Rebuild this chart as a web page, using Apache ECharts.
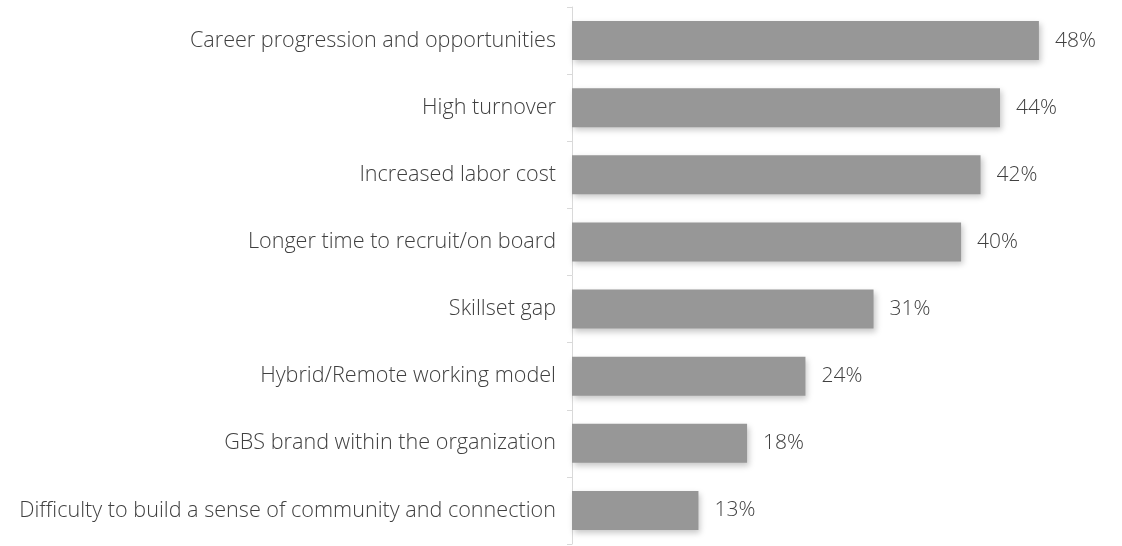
<!DOCTYPE html>
<html>
<head>
<meta charset="utf-8">
<script src="https://cdn.jsdelivr.net/npm/echarts@6/dist/echarts.min.js"></script>
<style>
  html, body { margin: 0; padding: 0; background: #fff; }
  #chart { width: 1122px; height: 546px; }
</style>
</head>
<body>
<div id="chart"></div>
<script>
// categories top to bottom
var categories = [
    'Career progression and opportunities',
    'High turnover',
    'Increased labor cost',
    'Longer time to recruit/on board',
    'Skillset gap',
    'Hybrid/Remote working model',
    'GBS brand within the organization',
    'Difficulty to build a sense of community and connection'
];
var values = [48, 44, 42, 40, 31, 24, 18, 13];

var chart = echarts.init(document.getElementById('chart'));
chart.setOption({
    animation: false,
    grid: { left: 572, right: 15, top: 7, bottom: 2 },
    xAxis: {
        type: 'value',
        min: 0,
        max: 55,
        show: false
    },
    yAxis: {
        type: 'category',
        inverse: true,
        data: categories,
        axisLine: { show: true, lineStyle: { color: '#d9d9d9', width: 1 } },
        axisTick: { show: true, length: 5, lineStyle: { color: '#d9d9d9' } },
        axisLabel: {
            margin: 16,
            color: '#404040',
            fontFamily: 'Open Sans',
            fontWeight: 300,
            fontSize: 21.6
        }
    },
    series: [{
        type: 'bar',
        data: values,
        barCategoryGap: '42%',
        itemStyle: {
            color: '#979797',
            shadowColor: 'rgba(0,0,0,0.22)',
            shadowBlur: 6,
            shadowOffsetX: 2,
            shadowOffsetY: 3
        },
        label: {
            show: true,
            position: 'right',
            distance: 16,
            formatter: '{c}%',
            color: '#404040',
            fontFamily: 'Open Sans',
            fontWeight: 300,
            fontSize: 21
        }
    }]
});
</script>
</body>
</html>
